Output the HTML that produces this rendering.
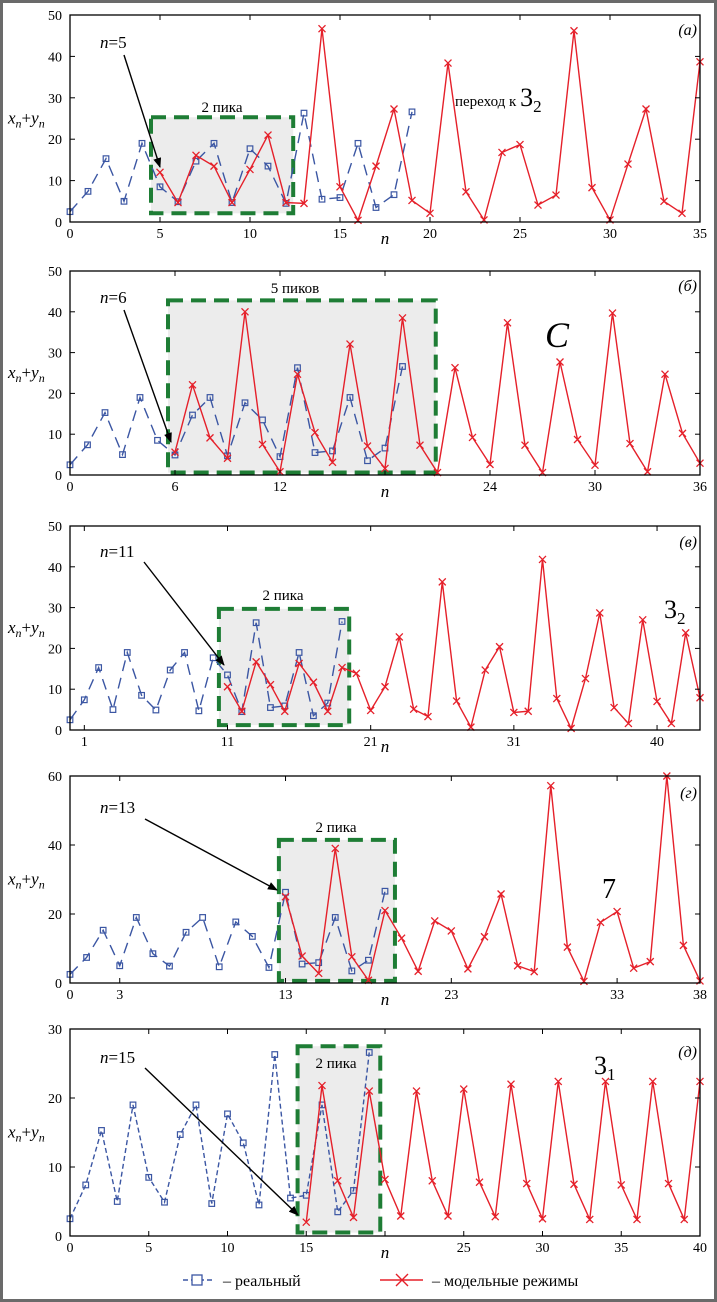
<!DOCTYPE html>
<html><head><meta charset="utf-8">
<style>
html,body{margin:0;padding:0;background:#fff;}
svg{display:block;font-family:"Liberation Serif",serif;}
</style></head>
<body>
<svg id="fig" width="717" height="1302" viewBox="0 0 717 1302" xmlns="http://www.w3.org/2000/svg">
<rect x="1.5" y="1.5" width="714" height="1299" fill="#fff" stroke="#6a6a6a" stroke-width="3"/>
</svg>
<script>
// shared real series (n = 0..19)
const realValues = [2.5,7.4,15.3,5,19,8.5,4.9,14.7,19,4.7,17.7,13.5,4.5,26.3,5.5,5.9,19,3.5,6.6,26.6];
// model series per panel
const redStartA = 5;
const redA = [12,4.7,16.1,13.5,4.7,12.7,21,4.7,4.5,46.7,8.5,0.4,13.5,27.3,5.2,2.1,38.4,7.3,0.5,16.8,18.7,4.1,6.5,46.2,8.3,0.5,14,27.3,5,2.1,38.7];
const redStartB = 6;
const redB = [5.6,22.1,9.1,4.1,40,7.5,0.8,24.7,10.4,3.1,32.1,7.1,1.6,38.5,7.3,0.6,26.3,9.2,2.6,37.3,7.3,0.6,27.7,8.7,2.4,39.7,7.7,0.8,24.7,10.2,2.9];
const redStartC = 11;
const redC = [10.6,4.6,16.7,11.1,4.6,16.3,11.7,4.6,15.3,13.9,4.8,10.6,22.8,5.1,3.3,36.3,7.1,0.7,14.7,20.4,4.3,4.6,41.8,7.7,0.4,12.6,28.7,5.5,1.6,27,7,1.6,23.8,7.9];
const redStartD = 13;
const redD = [25,7.8,2.8,39,7.6,0.8,21,13,3.4,18,15.1,4.1,13.4,25.8,5,3.3,57.2,10.4,0.5,17.6,20.7,4.3,6.2,60,10.9,0.6];
const redStartE = 15;
const redE = [2,21.8,8,2.7,21,8.2,2.9,21,8,2.9,21.3,7.8,2.8,22,7.6,2.5,22.4,7.5,2.4,22.4,7.4,2.4,22.4,7.6,2.4,22.4];
// ticks
const xTicksA = [0,5,10,15,20,25,30,35];
const xLabelsA = ["0","5","10","15","20","25","30","35"];
const xTicksB = [0,6,12,18,24,30,36];
const xLabelsB = ["0","6","12","","24","30","36"];
const xTicksC = [1,11,21,31,41];
const xLabelsC = ["1","11","21","31","40"];
const xTicksD = [0,3,13,23,33,38];
const xLabelsD = ["0","3","13","23","33","38"];
const xTicksE = [0,5,10,15,20,25,30,35,40];
const xLabelsE = ["0","5","10","15","","25","30","35","40"];
const yTicks50 = [0,10,20,30,40,50];
const yTicks60 = [0,20,40,60];
const yTicks30 = [0,10,20,30];
// highlight boxes [n0,n1,y0,y1]
const boxA = [4.5,12.4,2.1,25.3];
const boxB = [5.6,20.9,0.6,42.8];
const boxC = [10.4,19.5,1.2,29.7];
const boxD = [12.6,19.6,0.6,41.5];
const boxE = [14.45,19.7,0.5,27.5];

const NS="http://www.w3.org/2000/svg";
const svg=document.getElementById('fig');
function mk(tag,attrs,parent){const e=document.createElementNS(NS,tag);for(const k in attrs)e.setAttribute(k,attrs[k]);(parent||svg).appendChild(e);return e;}

const L=70,R=700;
const panels=[
 {id:'a',top:15,bot:222,xd:[0,35],yd:[0,50],xt:xTicksA,xl:xLabelsA,yt:yTicks50,red:redA,rs:redStartA,box:boxA,tag:'(a)',tagY:35,lab:'2 пика',labX:222,labY:112,nT:'5',nX:100,nY:48,ar:[124,55,160,167],fine:false},
 {id:'b',top:271,bot:475,xd:[0,36],yd:[0,50],xt:xTicksB,xl:xLabelsB,yt:yTicks50,red:redB,rs:redStartB,box:boxB,tag:'(б)',tagY:291,lab:'5 пиков',labX:295,labY:293,nT:'6',nX:100,nY:303,ar:[124,310,171,442],fine:false},
 {id:'c',top:526,bot:730,xd:[0,44],yd:[0,50],xt:xTicksC,xl:xLabelsC,yt:yTicks50,red:redC,rs:redStartC,box:boxC,tag:'(в)',tagY:547,lab:'2 пика',labX:283,labY:600,nT:'11',nX:100,nY:557,ar:[144,562,224,665],fine:false},
 {id:'d',top:776,bot:983,xd:[0,38],yd:[0,60],xt:xTicksD,xl:xLabelsD,yt:yTicks60,red:redD,rs:redStartD,box:boxD,tag:'(г)',tagY:798,lab:'2 пика',labX:336,labY:832,nT:'13',nX:100,nY:813,ar:[145,819,277,890],fine:false},
 {id:'e',top:1029,bot:1236,xd:[0,40],yd:[0,30],xt:xTicksE,xl:xLabelsE,yt:yTicks30,red:redE,rs:redStartE,box:boxE,tag:'(д)',tagY:1057,lab:'2 пика',labX:336,labY:1068,nT:'15',nX:100,nY:1063,ar:[145,1068,298,1215],fine:true}
];

const defs=mk('defs',{});
const mkr=mk('marker',{id:'arr',markerWidth:'10',markerHeight:'8',refX:'9',refY:'4',orient:'auto',markerUnits:'userSpaceOnUse'},defs);
mk('path',{d:'M0,0 L10,4 L0,8 z',fill:'#000'},mkr);

panels.forEach(p=>{
  const g=mk('g',{});
  
  
  const X=v=>L+(v-p.xd[0])/(p.xd[1]-p.xd[0])*(R-L);
  const Y=v=>p.bot-(v-p.yd[0])/(p.yd[1]-p.yd[0])*(p.bot-p.top);
  // box
  const b=p.box;
  const br=mk('rect',{x:X(b[0]),y:Y(b[3]),width:X(b[1])-X(b[0]),height:Y(b[2])-Y(b[3]),fill:'#ececec',stroke:'#1e7d35','stroke-width':4,'stroke-dasharray':'15,8'},g);
  
  
  // real series
  const rp=realValues.map((v,i)=>X(i)+','+Y(v)).join(' ');
  const rl=mk('polyline',{points:rp,fill:'none',stroke:'#3b56a3','stroke-width':1.4,'stroke-dasharray':p.fine?'5,3':'11,7'},g);
  
  
  realValues.forEach((v,i)=>{
    const s=mk('rect',{x:X(i)-2.8,y:Y(v)-2.8,width:5.6,height:5.6,fill:'none',stroke:'#3b56a3','stroke-width':1.2},g);
    
    
  });
  // red series
  const mp=p.red.map((v,i)=>X(p.rs+i)+','+Y(v)).join(' ');
  const ml=mk('polyline',{points:mp,fill:'none',stroke:'#e5202a','stroke-width':1.4},g);
  
  
  p.red.forEach((v,i)=>{
    const cx=X(p.rs+i),cy=Y(v),d=3.5;
    const c=mk('path',{d:`M${cx-d},${cy-d}L${cx+d},${cy+d}M${cx-d},${cy+d}L${cx+d},${cy-d}`,stroke:'#e5202a','stroke-width':1.3},g);
    
    
  });
  // axes frame
  const fr=mk('rect',{x:L,y:p.top,width:R-L,height:p.bot-p.top,fill:'none',stroke:'#000','stroke-width':1.3},g);
  
  
  p.xt.forEach((t,i)=>{
    mk('line',{x1:X(t),x2:X(t),y1:p.bot,y2:p.bot-5,stroke:'#000','stroke-width':1},g);
    mk('line',{x1:X(t),x2:X(t),y1:p.top,y2:p.top+5,stroke:'#000','stroke-width':1},g);
    const tl=mk('text',{x:X(t),y:p.bot+16,'text-anchor':'middle','font-size':14},g);
    tl.textContent=p.xl[i];
    
    
  });
  p.yt.forEach(t=>{
    mk('line',{x1:L,x2:L+5,y1:Y(t),y2:Y(t),stroke:'#000','stroke-width':1},g);
    mk('line',{x1:R,x2:R-5,y1:Y(t),y2:Y(t),stroke:'#000','stroke-width':1},g);
    const tl=mk('text',{x:L-8,y:Y(t)+5,'text-anchor':'end','font-size':14},g);
    tl.textContent=t;
    
    
  });
  // axis labels
  const xl=mk('text',{x:385,y:p.bot+22,'text-anchor':'middle','font-size':17,'font-style':'italic'},g);
  xl.textContent='n';
  
  
  const yl=mk('text',{x:8,y:(p.top+p.bot)/2+5,'font-size':17,'font-style':'italic'},g);
  yl.innerHTML='x<tspan font-size="12" dy="4">n</tspan><tspan dy="-4" font-style="normal">+</tspan>y<tspan font-size="12" dy="4">n</tspan>';
  
  
  const tg=mk('text',{x:697,y:p.tagY,'text-anchor':'end','font-size':16,'font-style':'italic'},g);
  tg.textContent=p.tag;
  
  
  const lb=mk('text',{x:p.labX,y:p.labY,'text-anchor':'middle','font-size':15},g);
  lb.textContent=p.lab;
  
  
  const nt=mk('text',{x:p.nX,y:p.nY,'font-size':17},g);
  nt.innerHTML='<tspan font-style="italic">n</tspan>='+p.nT;
  
  
  const ar=mk('line',{x1:p.ar[0],y1:p.ar[1],x2:p.ar[2],y2:p.ar[3],stroke:'#000','stroke-width':1.4,'marker-end':'url(#arr)'},g);
  
  
});

function note(x,y,html,size,name,style){
  const t=mk('text',{x:x,y:y,'font-size':size});
  if(style)t.setAttribute('font-style',style);
  t.innerHTML=html;
  
  
}
note(455,106,'переход к <tspan font-size="26">3</tspan><tspan font-size="17" dy="6">2</tspan>',15,'regime-label-a');
note(545,347,'C',36,'regime-label-b','italic');
note(664,618,'<tspan font-size="26">3</tspan><tspan font-size="17" dy="6">2</tspan>',26,'regime-label-c');
note(602,898,'7',28,'regime-label-d');
note(594,1074,'<tspan font-size="26">3</tspan><tspan font-size="17" dy="6">1</tspan>',26,'regime-label-e');

// legend
const lg=mk('g',{});


mk('line',{x1:183,x2:215,y1:1280,y2:1280,stroke:'#3b56a3','stroke-width':1.4,'stroke-dasharray':'5,3'},lg);
mk('rect',{x:192,y:1275,width:10,height:10,fill:'#fff',stroke:'#3b56a3','stroke-width':1.3},lg);
const t1=mk('text',{x:223,y:1286,'font-size':16},lg);
t1.textContent='– реальный';


mk('line',{x1:380,x2:423,y1:1280,y2:1280,stroke:'#e5202a','stroke-width':1.4},lg);
mk('path',{d:'M396,1274L408,1286M396,1286L408,1274',stroke:'#e5202a','stroke-width':1.4},lg);
const t2=mk('text',{x:432,y:1286,'font-size':16},lg);
t2.textContent='– модельные режимы';


</script>
</body></html>
